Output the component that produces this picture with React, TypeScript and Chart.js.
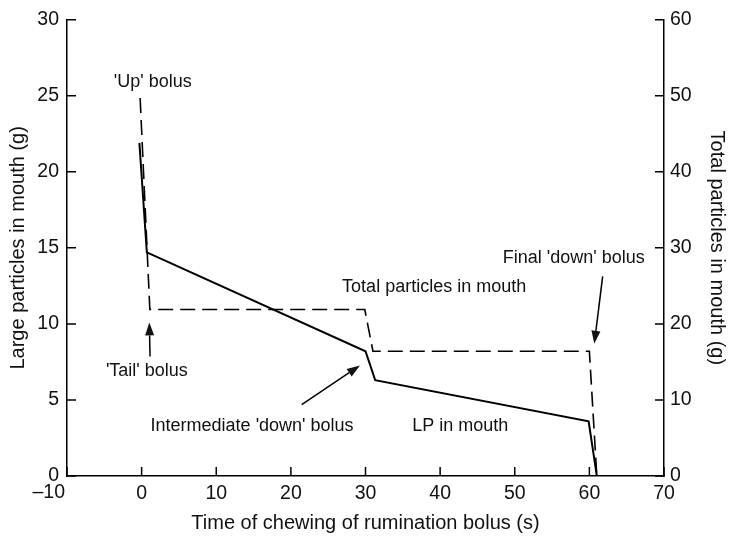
import React, { useEffect, useRef } from "react";
import { Chart, registerables } from "chart.js";

Chart.register(...registerables);

// Large particles (left axis, g)
const lpTime = [-0.3, 0.7, 30, 31.3, 59.9, 61];
const lpValues = [21.9, 14.7, 8.2, 6.3, 3.6, 0];

// Total particles (right axis, g)
const totalTime = [-0.2, 1.1, 29.9, 31, 60, 61];
const totalValues = [49.7, 21.9, 21.9, 16.4, 16.4, 0];

// Axis tick settings
const xTickStep = 10;
const yLeftStep = 5;
const yRightStep = 10;

// Text annotations (data coordinates, left axis units)
const annotationTexts = [
  "'Up' bolus",
  "Total particles in mouth",
  "Final 'down' bolus",
  "'Tail' bolus",
  "Intermediate 'down' bolus",
  "LP in mouth",
];
const annotationX = [1.5, 39.2, 57.9, 0.7, 14.8, 42.7];
const annotationY = [25.9, 12.4, 14.3, 6.9, 3.3, 3.3];

// Arrows (data coordinates, left axis units): from -> to (tip)
const arrowFromX = [1.13, 21.45, 61.78];
const arrowFromY = [7.86, 4.7, 13.12];
const arrowToX = [1.03, 29.26, 60.66];
const arrowToY = [10.1, 7.27, 8.69];

const FONT = "'Liberation Sans', Arial, Helvetica, sans-serif";
const INK = "#111";
const TICK_SIZE = 19.5;

const overlayPlugin = {
  id: "overlay",
  afterDraw(chart: any) {
    const { ctx, chartArea, scales } = chart;
    const x = scales.x;
    const y = scales.y;
    const y1 = scales.y1;
    const tl = 9;
    ctx.save();
    ctx.strokeStyle = "#000";
    ctx.lineWidth = 1.5;
    ctx.beginPath();
    // inward ticks
    x.ticks.forEach((t: any) => {
      const px = x.getPixelForValue(t.value);
      ctx.moveTo(px, chartArea.bottom);
      ctx.lineTo(px, chartArea.bottom - tl);
    });
    y.ticks.forEach((t: any) => {
      const py = y.getPixelForValue(t.value);
      ctx.moveTo(chartArea.left, py);
      ctx.lineTo(chartArea.left + tl, py);
    });
    y1.ticks.forEach((t: any) => {
      const py = y1.getPixelForValue(t.value);
      ctx.moveTo(chartArea.right, py);
      ctx.lineTo(chartArea.right - tl, py);
    });
    ctx.stroke();

    // x tick labels (first one right-aligned against the axis corner)
    ctx.fillStyle = INK;
    ctx.font = `${TICK_SIZE}px ${FONT}`;
    ctx.textBaseline = "middle";
    x.ticks.forEach((t: any, i: number) => {
      const px = x.getPixelForValue(t.value);
      const label = t.value < 0 ? "\u2013" + Math.abs(t.value) : String(t.value);
      if (i === 0) {
        ctx.textAlign = "right";
        ctx.fillText(label, px - 2, chartArea.bottom + 17);
      } else {
        ctx.textAlign = "center";
        ctx.fillText(label, px, chartArea.bottom + 18);
      }
    });

    // text annotations
    ctx.font = `18px ${FONT}`;
    ctx.textAlign = "center";
    ctx.textBaseline = "middle";
    annotationTexts.forEach((txt, i) => {
      ctx.fillText(txt, x.getPixelForValue(annotationX[i]), y.getPixelForValue(annotationY[i]));
    });

    // arrows
    ctx.lineWidth = 1.5;
    arrowFromX.forEach((_, i) => {
      const x0 = x.getPixelForValue(arrowFromX[i]);
      const y0 = y.getPixelForValue(arrowFromY[i]);
      const x1 = x.getPixelForValue(arrowToX[i]);
      const y1p = y.getPixelForValue(arrowToY[i]);
      const ang = Math.atan2(y1p - y0, x1 - x0);
      const hl = 13;
      const hw = 4.5;
      const bx = x1 - hl * Math.cos(ang);
      const by = y1p - hl * Math.sin(ang);
      ctx.beginPath();
      ctx.moveTo(x0, y0);
      ctx.lineTo(bx, by);
      ctx.stroke();
      ctx.beginPath();
      ctx.moveTo(x1, y1p);
      ctx.lineTo(bx + hw * Math.sin(ang), by - hw * Math.cos(ang));
      ctx.lineTo(bx - hw * Math.sin(ang), by + hw * Math.cos(ang));
      ctx.closePath();
      ctx.fill();
    });
    ctx.restore();
  },
};

export default function App() {
  const ref = useRef<HTMLCanvasElement>(null);
  useEffect(() => {
    document.body.style.margin = "0";
    const canvas = ref.current!;
    const tickFont = { family: FONT, size: TICK_SIZE };
    const titleFont = { family: FONT, size: 20 };
    const chart = new Chart(canvas, {
      type: "scatter",
      data: {
        datasets: [
          {
            label: "LP in mouth",
            data: lpTime.map((t, i) => ({ x: t, y: lpValues[i] })),
            showLine: true,
            borderColor: "#000",
            borderWidth: 2,
            pointRadius: 0,
            yAxisID: "y",
          },
          {
            label: "Total particles in mouth",
            data: totalTime.map((t, i) => ({ x: t, y: totalValues[i] })),
            showLine: true,
            borderColor: "#000",
            borderWidth: 1.6,
            borderDash: [15, 7],
            pointRadius: 0,
            yAxisID: "y1",
          },
        ],
      },
      options: {
        responsive: false,
        animation: false,
        devicePixelRatio: 1,
        layout: { padding: { top: 18, left: 0, right: 0, bottom: 0 } },
        plugins: { legend: { display: false }, tooltip: { enabled: false } },
        scales: {
          x: {
            type: "linear",
            min: -10,
            max: 70,
            ticks: {
              stepSize: xTickStep,
              font: tickFont,
              color: "rgba(0,0,0,0)",
              padding: 6,
              maxRotation: 0,
            },
            grid: { display: false, drawTicks: false },
            border: { display: true, color: "#000", width: 1.5 },
            title: {
              display: true,
              text: "Time of chewing of rumination bolus (s)",
              font: titleFont,
              color: INK,
              padding: { top: 0, bottom: 7 },
            },
            afterFit: (s: any) => {
              s.height = 66;
            },
          },
          y: {
            position: "left",
            min: 0,
            max: 30,
            ticks: { stepSize: yLeftStep, font: tickFont, color: INK, padding: 8 },
            grid: { display: false, drawTicks: false },
            border: { display: true, color: "#000", width: 1.5 },
            title: {
              display: true,
              text: "Large particles in mouth (g)",
              font: titleFont,
              color: INK,
              padding: { top: 6, bottom: 0 },
            },
            afterFit: (s: any) => {
              s.width = 67;
            },
          },
          y1: {
            position: "right",
            min: 0,
            max: 60,
            ticks: { stepSize: yRightStep, font: tickFont, color: INK, padding: 6 },
            grid: { display: false, drawTicks: false },
            border: { display: true, color: "#000", width: 1.5 },
            title: {
              display: true,
              text: "Total particles in mouth (g)",
              font: titleFont,
              color: INK,
              padding: { top: 0, bottom: 0 },
            },
            afterFit: (s: any) => {
              s.width = 65;
            },
          },
        },
      } as any,
      plugins: [overlayPlugin],
    });
    return () => chart.destroy();
  }, []);
  return (
    <div style={{ width: 729, height: 542 }}>
      <canvas ref={ref} width={729} height={542} style={{ display: "block" }} />
    </div>
  );
}
